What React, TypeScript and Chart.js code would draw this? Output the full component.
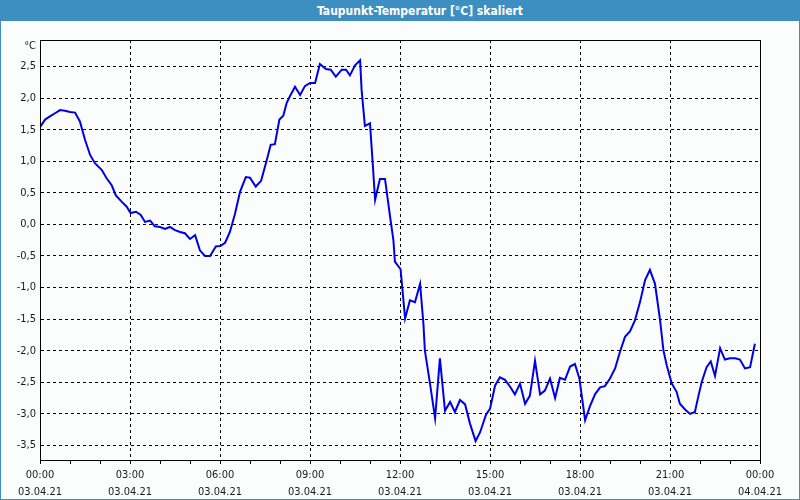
import React, { useEffect, useRef } from "react";
import { Chart, registerables } from "chart.js";

Chart.register(...registerables);

const title = "Taupunkt-Temperatur [°C] skaliert";
const unitLabel = "°C";
const dateStart = "03.04.21";
const dateEnd = "04.04.21";

// time of day in hours
const hours = [
  0.0, 0.17, 0.33, 0.5, 0.67, 0.83, 1.0, 1.17, 1.33, 1.5, 1.67, 1.83, 2.06, 2.22, 2.39, 2.53, 2.72, 2.89,
  3.02, 3.2, 3.36, 3.5, 3.67, 3.83, 4.0, 4.17, 4.33, 4.5, 4.67, 4.83, 5.0, 5.17, 5.33, 5.5, 5.67, 5.86,
  6.02, 6.17, 6.33, 6.5, 6.67, 6.86, 7.0, 7.19, 7.37, 7.56, 7.69, 7.83, 7.98, 8.11, 8.22, 8.33, 8.5, 8.67,
  8.83, 9.0, 9.17, 9.33, 9.53, 9.69, 9.86, 10.06, 10.2, 10.33, 10.5, 10.67, 10.72, 10.83, 11.0, 11.09,
  11.17, 11.33, 11.5, 11.67, 11.78, 11.83, 12.02, 12.17, 12.33, 12.5, 12.67, 12.78, 12.83, 13.0, 13.17,
  13.33, 13.5, 13.67, 13.83, 14.0, 14.17, 14.33, 14.52, 14.67, 14.87, 15.0, 15.17, 15.33, 15.5, 15.67,
  15.83, 16.0, 16.17, 16.33, 16.5, 16.67, 16.83, 17.0, 17.17, 17.33, 17.5, 17.67, 17.83, 17.98, 18.17,
  18.33, 18.5, 18.67, 18.83, 19.0, 19.17, 19.33, 19.5, 19.67, 19.83, 20.0, 20.17, 20.33, 20.5, 20.67,
  20.78, 20.89, 21.06, 21.22, 21.33, 21.5, 21.67, 21.83, 21.94, 22.06, 22.22, 22.36, 22.5, 22.67, 22.83,
  23.0, 23.17, 23.33, 23.5, 23.67, 23.83,
];

// dew point temperature in °C
const dewPoint = [
  1.54, 1.66, 1.71, 1.76, 1.81, 1.8, 1.78, 1.77, 1.63, 1.34, 1.1, 0.97, 0.86, 0.73, 0.62, 0.46, 0.36, 0.28,
  0.18, 0.2, 0.15, 0.04, 0.06, -0.03, -0.04, -0.07, -0.04, -0.09, -0.12, -0.14, -0.23, -0.17, -0.41, -0.5,
  -0.5, -0.35, -0.34, -0.29, -0.12, 0.17, 0.52, 0.75, 0.74, 0.6, 0.69, 1.02, 1.26, 1.27, 1.66, 1.72, 1.92,
  2.03, 2.18, 2.05, 2.19, 2.24, 2.24, 2.54, 2.46, 2.45, 2.34, 2.45, 2.45, 2.36, 2.52, 2.6, 2.13, 1.56, 1.6,
  0.97, 0.39, 0.72, 0.72, 0.12, -0.25, -0.59, -0.71, -1.49, -1.2, -1.23, -0.94, -1.57, -2.0, -2.52, -3.07,
  -2.12, -2.95, -2.81, -2.97, -2.78, -2.85, -3.15, -3.43, -3.29, -3.01, -2.92, -2.55, -2.42, -2.46, -2.57,
  -2.69, -2.52, -2.84, -2.71, -2.16, -2.69, -2.63, -2.44, -2.75, -2.43, -2.46, -2.25, -2.21, -2.44, -3.1,
  -2.88, -2.69, -2.58, -2.56, -2.44, -2.28, -2.02, -1.78, -1.69, -1.52, -1.23, -0.88, -0.72, -0.94, -1.52,
  -1.99, -2.23, -2.52, -2.65, -2.84, -2.93, -3.0, -2.97, -2.73, -2.49, -2.26, -2.17, -2.4, -1.96, -2.14,
  -2.12, -2.12, -2.14, -2.28, -2.26, -1.89,
];

const yMin = -3.73;
const yMax = 2.92;

const FONT_FAMILY = "'DejaVu Sans Condensed', 'Liberation Sans', sans-serif";

export default function App() {
  const canvasRef = useRef<HTMLCanvasElement | null>(null);

  useEffect(() => {
    document.body.style.margin = "0";
    const canvas = canvasRef.current;
    if (!canvas) return;

    const boxPlugin = {
      id: "boxPlugin",
      afterDraw(chart: any) {
        const { ctx, chartArea } = chart;
        ctx.save();
        ctx.strokeStyle = "#000";
        ctx.lineWidth = 1;
        ctx.strokeRect(
          Math.round(chartArea.left) + 0.5,
          Math.round(chartArea.top) + 0.5,
          Math.round(chartArea.right - chartArea.left),
          Math.round(chartArea.bottom - chartArea.top)
        );
        ctx.fillStyle = "#1a1a1a";
        ctx.font = `11px ${FONT_FAMILY}`;
        ctx.textAlign = "right";
        ctx.textBaseline = "middle";
        ctx.fillText(unitLabel, chartArea.left - 4, chartArea.top + 6);
        ctx.restore();
      },
    };

    const chart = new Chart(canvas, {
      type: "line",
      data: {
        datasets: [
          {
            data: hours.map((h, i) => ({ x: h, y: dewPoint[i] })),
            borderColor: "#0000e6",
            borderWidth: 2,
            pointRadius: 0,
            tension: 0,
            fill: false,
          },
        ],
      },
      options: {
        animation: false,
        responsive: false,
        devicePixelRatio: 1,
        layout: { padding: { left: 0, top: 40, right: 40, bottom: 0 } },
        plugins: { legend: { display: false }, tooltip: { enabled: false }, title: { display: false } },
        scales: {
          x: {
            type: "linear",
            min: 0,
            max: 24,
            afterFit(scale: any) {
              scale.height = 40;
            },
            ticks: {
              stepSize: 1,
              autoSkip: false,
              maxRotation: 0,
              padding: 3,
              color: "#1a1a1a",
              font: { family: FONT_FAMILY, size: 11, lineHeight: 1.5 },
              callback(value: any) {
                const v = Number(value);
                if (v % 3 !== 0) return "";
                const hh = String(v % 24).padStart(2, "0") + ":00";
                return [hh, v === 24 ? dateEnd : dateStart];
              },
            },
            grid: {
              color: (ctx: any) => {
                const v = ctx.tick ? ctx.tick.value : 0;
                return v % 3 === 0 && v !== 0 && v !== 24 ? "#000" : "rgba(0,0,0,0)";
              },
              tickColor: "#000",
              tickLength: 4,
              lineWidth: 1,
              drawTicks: true,
            },
            border: { display: true, color: "#000", width: 1, dash: [3, 3] },
          },
          y: {
            type: "linear",
            min: yMin,
            max: yMax,
            afterFit(scale: any) {
              scale.width = 40;
            },
            ticks: {
              stepSize: 0.5,
              includeBounds: false,
              padding: 4,
              color: "#1a1a1a",
              font: { family: FONT_FAMILY, size: 11 },
              callback(value: any) {
                return Number(value).toFixed(1).replace(".", ",");
              },
            },
            grid: {
              color: "#000",
              lineWidth: 1,
              drawTicks: false,
            },
            border: { display: true, color: "#000", width: 1, dash: [3, 3] },
          },
        },
      },
      plugins: [boxPlugin],
    });

    return () => chart.destroy();
  }, []);

  return (
    <div
      style={{
        position: "fixed",
        left: 0,
        top: 0,
        width: 800,
        height: 500,
        background: "#fafdfb",
        boxSizing: "border-box",
        border: "1px solid #3d8fc2",
        overflow: "hidden",
      }}
    >
      <div
        style={{
          position: "absolute",
          left: 0,
          top: 0,
          width: 798,
          height: 20,
          background: "#3d8fc2",
          color: "#fff",
          fontFamily: FONT_FAMILY,
          fontWeight: "bold",
          fontSize: 12,
          lineHeight: "20px",
          zIndex: 2,
        }}
      >
        <span style={{ position: "absolute", left: 419, top: 0, transform: "translateX(-50%)", whiteSpace: "nowrap" }}>
          {title}
        </span>
      </div>
      <canvas
        ref={canvasRef}
        width={800}
        height={500}
        style={{ position: "absolute", left: -1, top: -1, width: 800, height: 500, display: "block" }}
      />
    </div>
  );
}
